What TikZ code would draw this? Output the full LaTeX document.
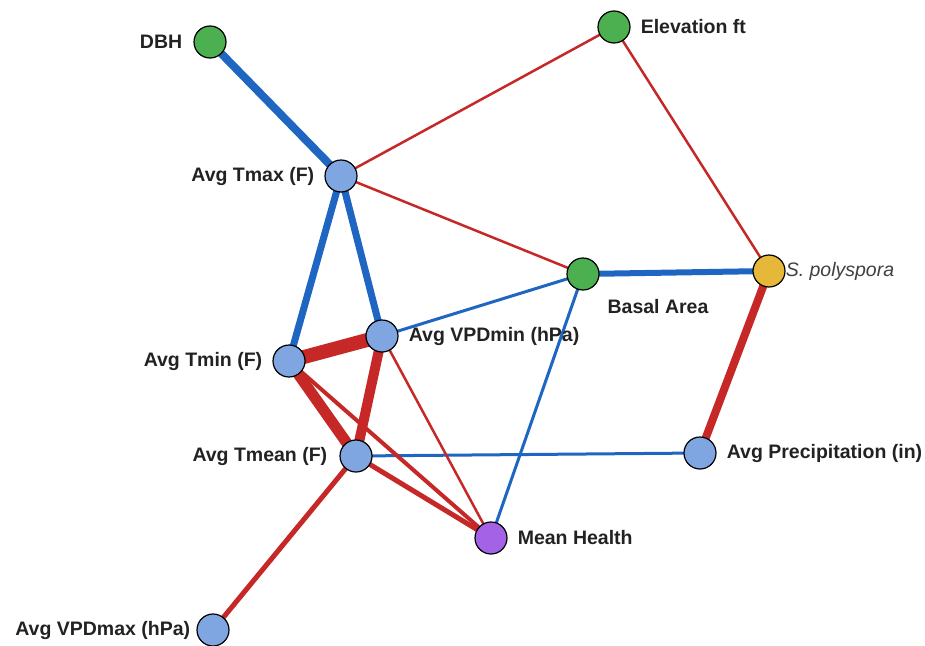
\documentclass[tikz,border=0pt]{standalone}
\usepackage{fontspec}
\setmainfont{Liberation Sans}
\usepackage{tikz}
\usetikzlibrary{positioning}
\usetikzlibrary{backgrounds}

\definecolor{posblue}{HTML}{1F66C2}
\definecolor{negred}{HTML}{C62828}
\definecolor{varblue}{HTML}{7FA6E0}
\definecolor{sitegreen}{HTML}{4CAF50}
\definecolor{sppyellow}{HTML}{E6B83A}
\definecolor{healthpurple}{HTML}{A463E6}
\definecolor{txtgray}{HTML}{222222}

\begin{document}
\begin{tikzpicture}[x=1pt,y=-1pt,
        vnode/.style={circle,draw=black,line width=1.2pt,minimum size=32pt,inner sep=0pt},
        lbl/.style={inner sep=0pt,text=txtgray,font=\fontsize{19.5}{22}\selectfont\bfseries},
        poslink/.style={draw=posblue,line cap=butt},
        neglink/.style={draw=negred,line cap=butt}]
        \useasboundingbox (0,0) rectangle (925,645);

        % variables
        \node[vnode,fill=sitegreen] (dbh) at (210,42) {};
        \node[vnode,fill=sitegreen] (elev) at (614,27) {};
        \node[vnode,fill=varblue] (tmax) at (341,176) {};
        \node[vnode,fill=sitegreen] (basal) at (583,274) {};
        \node[vnode,fill=sppyellow] (spoly) at (769,271) {};
        \node[vnode,fill=varblue] (vpdmin) at (382,336) {};
        \node[vnode,fill=varblue] (tmin) at (289,361) {};
        \node[vnode,fill=varblue] (tmean) at (356,456) {};
        \node[vnode,fill=varblue] (precip) at (700,453) {};
        \node[vnode,fill=healthpurple] (health) at (491,538) {};
        \node[vnode,fill=varblue] (vpdmax) at (213,630) {};

        % labels
        \node[lbl,left=11pt of dbh] (dbhlbl) {DBH};
        \node[lbl,right=10pt of elev] (elevlbl) {Elevation ft};
        \node[lbl,left=10pt of tmax] (tmaxlbl) {Avg Tmax (F)};
        \node[lbl] (basallbl) at (658,307) {Basal Area};
        \node[lbl,right=0pt of spoly,font=\fontsize{19.5}{22}\selectfont\itshape,text=black!75] (spolylbl) {S. polyspora};
        \node[lbl,right=10pt of vpdmin] (vpdminlbl) {Avg VPDmin (hPa)};
        \node[lbl,left=10pt of tmin] (tminlbl) {Avg Tmin (F)};
        \node[lbl,left=12pt of tmean] (tmeanlbl) {Avg Tmean (F)};
        \node[lbl,right=10pt of precip] (preciplbl) {Avg Precipitation (in)};
        \node[lbl,right=10pt of health] (healthlbl) {Mean Health};
        \node[lbl,left=6pt of vpdmax] (vpdmaxlbl) {Avg VPDmax (hPa)};

        \begin{scope}[on background layer]
        % positive links
        \draw[poslink,line width=8pt] (dbh.center) -- (tmax.center);
        \draw[poslink,line width=7pt] (tmax.center) -- (tmin.center);
        \draw[poslink,line width=7pt] (tmax.center) -- (vpdmin.center);
        \draw[poslink,line width=6pt] (basal.center) -- (spoly.center);
        \draw[poslink,line width=3pt] (basal.center) -- (vpdmin.center);
        \draw[poslink,line width=3pt] (basal.center) -- (health.center);
        \draw[poslink,line width=3pt] (tmean.center) -- (precip.center);
        % negative links
        \draw[neglink,line width=2.5pt] (tmax.center) -- (elev.center);
        \draw[neglink,line width=2.5pt] (tmax.center) -- (basal.center);
        \draw[neglink,line width=2.5pt] (elev.center) -- (spoly.center);
        \draw[neglink,line width=8pt] (spoly.center) -- (precip.center);
        \draw[neglink,line width=14pt] (tmin.center) -- (vpdmin.center);
        \draw[neglink,line width=10pt] (vpdmin.center) -- (tmean.center);
        \draw[neglink,line width=11pt] (tmin.center) -- (tmean.center);
        \draw[neglink,line width=4pt] (tmin.center) -- (health.center);
        \draw[neglink,line width=5pt] (tmean.center) -- (health.center);
        \draw[neglink,line width=2.5pt] (vpdmin.center) -- (health.center);
        \draw[neglink,line width=5pt] (tmean.center) -- (vpdmax.center);
        \end{scope}
\end{tikzpicture}
\end{document}
